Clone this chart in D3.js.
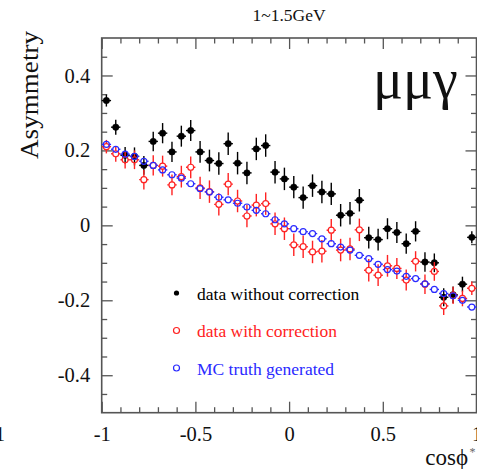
<!DOCTYPE html>
<html><head><meta charset="utf-8">
<script src="https://cdn.jsdelivr.net/npm/d3@7/dist/d3.min.js"></script>
<style>
html,body{margin:0;padding:0;background:#fff;}
svg{display:block;}
text{font-family:"Liberation Serif","Times New Roman",serif;}
</style></head>
<body>
<svg id="chart" width="477" height="469"></svg>
<script>
// ---- data ----
const cosCenters = [-0.975,-0.925,-0.875,-0.825,-0.775,-0.725,-0.675,-0.625,-0.575,-0.525,
  -0.475,-0.425,-0.375,-0.325,-0.275,-0.225,-0.175,-0.125,-0.075,-0.025,
  0.025,0.075,0.125,0.175,0.225,0.275,0.325,0.375,0.425,0.475,
  0.525,0.575,0.625,0.675,0.725,0.775,0.825,0.875,0.925,0.975];
const binHalfWidth = 0.025;
const dataNoCorr = [0.333,0.262,0.187,0.184,0.160,0.224,0.246,0.196,0.238,0.253,
  0.196,0.173,0.165,0.218,0.166,0.140,0.204,0.213,0.142,0.124,
  0.102,0.074,0.106,0.089,0.084,0.027,0.032,0.067,-0.033,-0.038,
  -0.009,-0.019,-0.049,-0.016,-0.098,-0.100,-0.192,-0.185,-0.157,-0.032];
const errNoCorr = [0.016,0.020,0.022,0.024,0.025,0.026,0.027,0.027,0.028,0.028,
  0.029,0.029,0.030,0.030,0.030,0.030,0.030,0.030,0.030,0.030,
  0.030,0.030,0.030,0.030,0.030,0.030,0.030,0.030,0.029,0.029,
  0.028,0.028,0.027,0.027,0.026,0.025,0.024,0.022,0.020,0.016];
const dataCorr = [0.210,0.191,0.175,0.175,0.122,0.160,0.158,0.108,0.130,0.155,
  0.100,0.090,0.056,0.110,0.065,0.025,0.054,0.058,0.004,-0.009,
  -0.052,-0.057,-0.071,-0.069,-0.013,-0.066,-0.063,-0.012,-0.120,-0.133,
  -0.108,-0.115,-0.146,-0.096,-0.157,-0.123,-0.215,-0.187,-0.195,-0.168];
const errCorr = [0.018,0.021,0.023,0.025,0.026,0.027,0.028,0.028,0.029,0.029,
  0.030,0.030,0.030,0.030,0.030,0.030,0.030,0.030,0.030,0.030,
  0.030,0.030,0.030,0.030,0.030,0.030,0.030,0.030,0.030,0.029,
  0.029,0.028,0.028,0.027,0.026,0.025,0.024,0.023,0.021,0.018];
const mcTruth = [0.216,0.203,0.190,0.184,0.171,0.160,0.148,0.135,0.126,0.111,
  0.098,0.089,0.075,0.068,0.059,0.049,0.040,0.031,0.015,0.004,
  -0.009,-0.017,-0.022,-0.036,-0.049,-0.058,-0.066,-0.080,-0.089,-0.104,
  -0.118,-0.122,-0.136,-0.142,-0.156,-0.171,-0.182,-0.188,-0.200,-0.218];
const xTickValues = [-1,-0.5,0,0.5,1];
const xMinorValues = [-0.9,-0.8,-0.7,-0.6,-0.4,-0.3,-0.2,-0.1,0.1,0.2,0.3,0.4,0.6,0.7,0.8,0.9];
const yTickValues = [-0.4,-0.2,0,0.2,0.4];
const yMinorValues = [-0.45,-0.35,-0.3,-0.25,-0.15,-0.1,-0.05,0.05,0.1,0.15,0.25,0.3,0.35,0.45];
const legendLabels = ["data without correction","data with correction","MC truth generated"];
const titleText = "1~1.5GeV";
const yTitle = "Asymmetry";
const xTitle = "cos\u03D5";
const channelLabel = "μμγ";

// ---- layout ----
const L = 101.7, R = 476.5, T = 38, B = 412.7;
const x = d3.scaleLinear().domain([-1,1]).range([L,R]);
const y = d3.scaleLinear().domain([-0.5,0.5]).range([B,T]);
const svg = d3.select("#chart");
const axisCol = "#555";
const black = "#000", red = "#ff2222", blue = "#2a2aff";
const serif = "'Liberation Serif','Times New Roman',serif";

function styleAxis(g){
  g.attr("font-family", serif);
  g.select(".domain").remove();
  g.selectAll("line").attr("stroke",axisCol).attr("stroke-width",1.3);
}
// bottom
svg.append("g").attr("transform",`translate(0,${B})`)
  .call(d3.axisBottom(x).tickValues(xTickValues).tickSize(-11).tickFormat(d=>String(d)))
  .call(styleAxis)
  .call(g=>g.selectAll("text").attr("y",28).attr("dy",0).attr("font-size",20.5)
     .attr("fill","#111"));
svg.append("g").attr("transform",`translate(0,${B})`)
  .call(d3.axisBottom(x).tickValues(xMinorValues).tickSize(-5.5).tickFormat(""))
  .call(styleAxis);
// top
svg.append("g").attr("transform",`translate(0,${T})`)
  .call(d3.axisTop(x).tickValues(xTickValues).tickSize(-11).tickFormat(""))
  .call(styleAxis);
svg.append("g").attr("transform",`translate(0,${T})`)
  .call(d3.axisTop(x).tickValues(xMinorValues).tickSize(-5.5).tickFormat(""))
  .call(styleAxis);
// left
svg.append("g").attr("transform",`translate(${L},0)`)
  .call(d3.axisLeft(y).tickValues(yTickValues).tickSize(-11).tickPadding(11.5).tickFormat(d=>String(d)))
  .call(styleAxis)
  .call(g=>g.selectAll("text").attr("font-size",20.5).attr("fill","#111"));
svg.append("g").attr("transform",`translate(${L},0)`)
  .call(d3.axisLeft(y).tickValues(yMinorValues).tickSize(-5.5).tickFormat(""))
  .call(styleAxis);
// right
svg.append("g").attr("transform",`translate(${R},0)`)
  .call(d3.axisRight(y).tickValues(yTickValues).tickSize(-11).tickFormat(""))
  .call(styleAxis);
svg.append("g").attr("transform",`translate(${R},0)`)
  .call(d3.axisRight(y).tickValues(yMinorValues).tickSize(-5.5).tickFormat(""))
  .call(styleAxis);
// frame
svg.append("rect").attr("x",L).attr("y",T).attr("width",R-L).attr("height",B-T)
  .attr("fill","none").attr("stroke",axisCol).attr("stroke-width",1.6);

// ---- series ----
const mr = 3;
function drawSeries(vals, errs, col, filled, showVert){
  const g = svg.append("g");
  vals.forEach((v,i)=>{
    const cx = x(cosCenters[i]), cy = y(v);
    const xl = x(cosCenters[i]-binHalfWidth), xr = x(cosCenters[i]+binHalfWidth);
    const gap = filled ? 0 : mr;
    g.append("line").attr("x1",xl).attr("x2",cx-gap).attr("y1",cy).attr("y2",cy)
      .attr("stroke",col).attr("stroke-width",1.4);
    g.append("line").attr("x1",cx+gap).attr("x2",xr).attr("y1",cy).attr("y2",cy)
      .attr("stroke",col).attr("stroke-width",1.4);
    if(showVert){
      g.append("line").attr("x1",cx).attr("x2",cx).attr("y1",y(v+errs[i])).attr("y2",cy-gap)
        .attr("stroke",col).attr("stroke-width",1.4);
      g.append("line").attr("x1",cx).attr("x2",cx).attr("y1",cy+gap).attr("y2",y(v-errs[i]))
        .attr("stroke",col).attr("stroke-width",1.4);
    }
    g.append("circle").attr("cx",cx).attr("cy",cy).attr("r",filled?3.2:mr)
      .attr("fill",filled?col:"none").attr("stroke",col).attr("stroke-width",filled?0.5:1.2);
  });
}
drawSeries(dataNoCorr, errNoCorr, black, true, true);
drawSeries(dataCorr, errCorr, red, false, true);
drawSeries(mcTruth, null, blue, false, false);

// ---- legend ----
const legY = [293, 330.5, 368];
const legCols = [black, red, blue];
legendLabels.forEach((t,i)=>{
  if(i===0){
    svg.append("circle").attr("cx",176.5).attr("cy",legY[i]).attr("r",2.6).attr("fill",black);
  } else {
    svg.append("circle").attr("cx",176.5).attr("cy",legY[i]).attr("r",3)
      .attr("fill","none").attr("stroke",legCols[i]).attr("stroke-width",1.2);
  }
  svg.append("text").attr("x",197).attr("y",legY[i]+6.5).attr("font-size",17.5)
    .attr("fill",legCols[i]).text(t);
});

// ---- texts ----
svg.append("text").attr("x",289).attr("y",21).attr("text-anchor","middle")
  .attr("font-size",17.5).attr("fill","#111").text(titleText);
svg.append("text").attr("transform","translate(38,95) rotate(-90)")
  .attr("text-anchor","middle").attr("font-size",25).attr("fill","#111")
  .attr("textLength",128).attr("lengthAdjust","spacingAndGlyphs").text(yTitle);
svg.append("text").attr("x",468).attr("y",465).attr("text-anchor","end")
  .attr("font-size",23).attr("fill","#111").text(xTitle);
svg.append("text").attr("x",469.5).attr("y",456).attr("font-size",12).attr("fill","#666").text("*");
svg.append("text").attr("x",373).attr("y",98).attr("font-size",56).attr("fill","#111").text(channelLabel);
// fragment of neighbouring panel's tick label at far left
svg.append("text").attr("x",0).attr("y",441).attr("text-anchor","middle")
  .attr("font-size",20).attr("fill","#111").text("1");
</script>
</body></html>
